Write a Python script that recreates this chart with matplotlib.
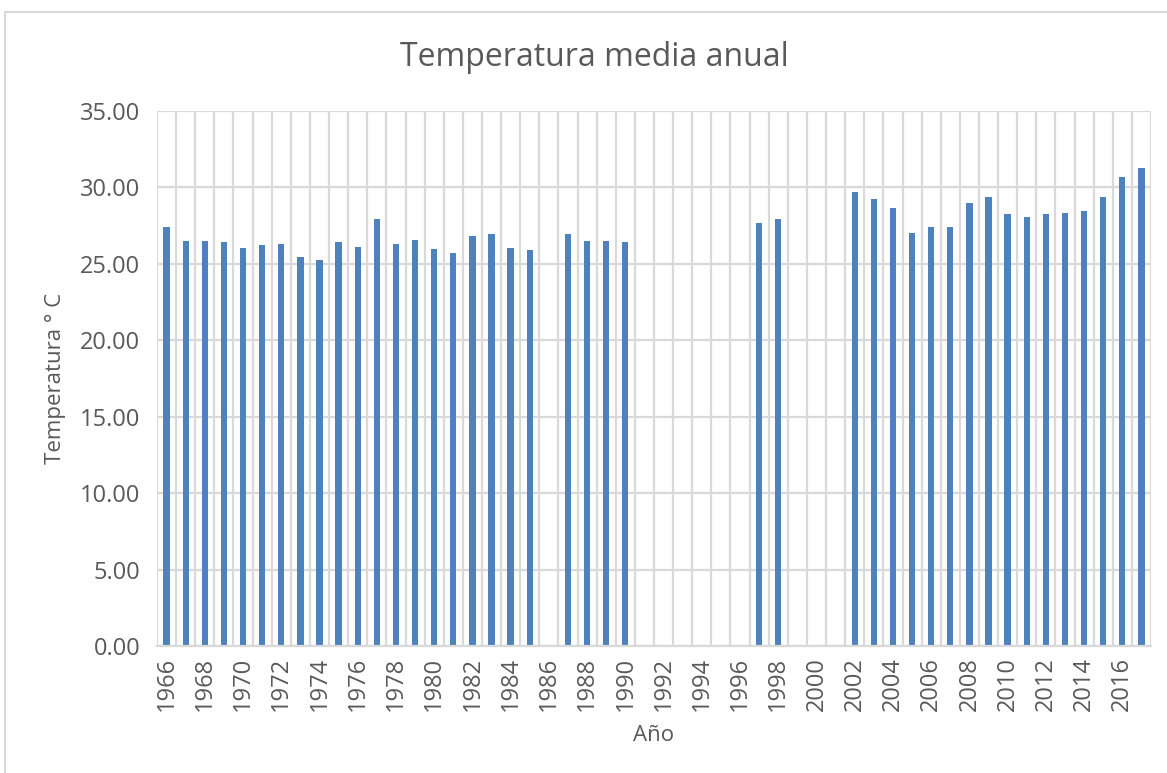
import numpy as np
import matplotlib
matplotlib.use("Agg")
import matplotlib.pyplot as plt
from matplotlib.patches import Rectangle

plt.rcParams['font.family'] = ['Open Sans', 'DejaVu Sans']

# annual mean temperature, NaN = no data for that year
years = list(range(1966, 2018))
temps = [
    27.43, 26.52, 26.52, 26.41, 26.06, 26.26, 26.30, 25.45, 25.26, 26.43,  # 1966-1975
    26.10, 27.91, 26.32, 26.58, 26.00, 25.74, 26.85, 26.93, 26.04, 25.91,  # 1976-1985
    np.nan, 26.96, 26.52, 26.52, 26.45, np.nan, np.nan, np.nan, np.nan, np.nan,  # 1986-1995
    np.nan, 27.65, 27.95, np.nan, np.nan, np.nan, 29.72, 29.26, 28.67, 27.04,  # 1996-2005
    27.43, 27.39, 28.98, 29.37, 28.24, 28.06, 28.26, 28.30, 28.48, 29.39,  # 2006-2015
    30.69, 31.30,  # 2016-2017
]
y_ticks = [0, 5, 10, 15, 20, 25, 30, 35]

bar_color = '#4F81BD'
grid_color = '#D9D9D9'
text_color = '#595959'

fig = plt.figure(figsize=(11.67, 7.73), dpi=100)
ax = fig.add_axes([157 / 1167, 1 - 646 / 773, (1151 - 157) / 1167, (646 - 111) / 773])

x = np.arange(len(years))
ax.bar(x, temps, width=0.33, color=bar_color, zorder=3)

ax.set_xlim(-0.5, len(years) - 0.5)
ax.set_ylim(0, 35)

# labels every other year, gridlines between categories
ax.set_xticks(x[::2])
ax.set_xticklabels([str(y) for y in years[::2]], rotation=90)
ax.set_xticks(np.arange(len(years) + 1) - 0.5, minor=True)
ax.set_yticks(y_ticks)
ax.set_yticklabels([f"{v:.2f}" for v in y_ticks])

ax.grid(True, which='minor', axis='x', color=grid_color, linewidth=1.6, zorder=0)
ax.grid(True, which='major', axis='y', color=grid_color, linewidth=1.6, zorder=0)
ax.tick_params(axis='both', which='both', length=0, colors=text_color, labelsize=17)
ax.tick_params(axis='x', pad=8)
ax.tick_params(axis='y', pad=12)

for side in ['top', 'right', 'left']:
    ax.spines[side].set_visible(False)
ax.spines['bottom'].set_color(grid_color)
ax.spines['bottom'].set_linewidth(1.6)
ax.spines['bottom'].set_zorder(4)

fig.text(594 / 1167, 1 - 58 / 773, "Temperatura media anual", fontsize=23,
         color=text_color, ha='center', va='center')
ax.set_xlabel("Año", fontsize=16, color=text_color, labelpad=10)
ax.set_ylabel("Temperatura ° C", fontsize=16, color=text_color, labelpad=10)

# light outer chart border
fig.patches.append(Rectangle((5 / 1167, -0.1), 1.2, 1 - 12 / 773 + 0.1,
                             transform=fig.transFigure, fill=False,
                             edgecolor=grid_color, linewidth=1.5))

fig.savefig("out.png", dpi=100)
